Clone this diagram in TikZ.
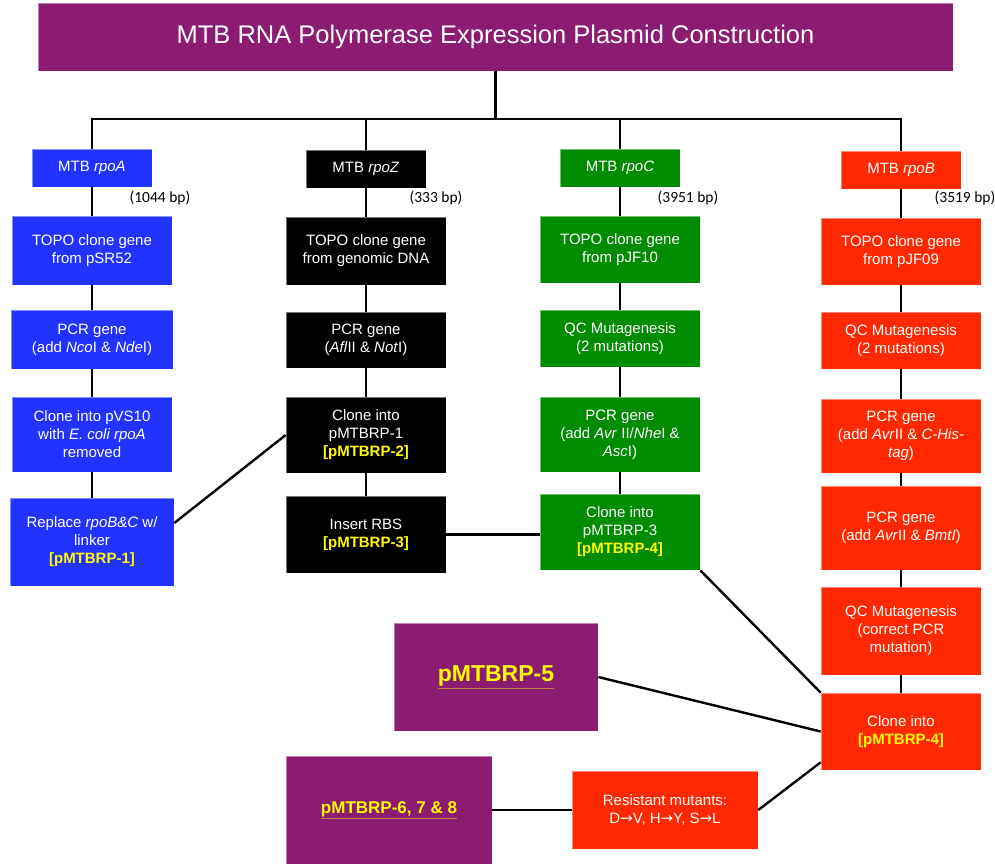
\documentclass[tikz,border=0pt]{standalone}
\usepackage{fontspec}
\setmainfont{Liberation Sans}
\newfontfamily\calfont{Carlito}
\newfontfamily\dvfont{DejaVu Sans}
\usetikzlibrary{calc}
\definecolor{mpurple}{RGB}{139,28,114}
\definecolor{mblue}{RGB}{34,51,255}
\definecolor{mgreen}{RGB}{0,140,0}
\definecolor{mred}{RGB}{255,40,0}
\definecolor{myellow}{RGB}{255,250,0}
\definecolor{mgold}{RGB}{225,185,20}
\newcommand\yl[1]{\textcolor{myellow}{\textbf{#1}}}
\newcommand\ul[1]{\tikz[baseline=(t.base)]\node[inner sep=0pt](t){#1};\tikz[overlay]\draw[mgold,line width=1.2pt]([yshift=-3pt]t.base west)--([yshift=-3pt]t.base east);}
\newcommand\arr{{\dvfont\char"2192}}
\tikzset{
  box/.style={draw=white, draw opacity=0.45, line width=0.6pt, text=white, align=center,
              inner sep=0pt, font=\fontsize{15}{18}\selectfont},
  bluebox/.style={box, fill=mblue},
  blackbox/.style={box, fill=black},
  greenbox/.style={box, fill=mgreen},
  redbox/.style={box, fill=mred},
  purplebox/.style={box, fill=mpurple},
  conn/.style={line width=2.4pt, black},
  bp/.style={font=\calfont\fontsize{15.5}{17}\selectfont, text=black, inner sep=0pt},
}
\begin{document}
\begin{tikzpicture}[x=1pt,y=-1pt]
\useasboundingbox (0,0) rectangle (995,864);

% title
\node[purplebox, minimum width=915, minimum height=68, font=\fontsize{25.5}{30}\selectfont] (title) at (495.5,37)
  {MTB RNA Polymerase Expression Plasmid Construction};

% column A (blue)
\node[bluebox, minimum width=120, minimum height=38] (a0) at (92,168) {MTB \textit{rpoA}};
\node[bluebox, minimum width=160, minimum height=69] (a1) at (92,250.5) {TOPO clone gene\\from pSR52};
\node[bluebox, minimum width=162, minimum height=59] (a2) at (92,339.5) {PCR gene\\(add \textit{Nco}I \& \textit{Nde}I)};
\node[bluebox, minimum width=160, minimum height=75] (a3) at (92,434.5) {Clone into pVS10\\with \textit{E. coli rpoA}\\removed};
\node[bluebox, minimum width=164, minimum height=88] (a4) at (92,542) {Replace \textit{rpoB\&C} w/\\linker\\\yl{[pMTBRP-1]}};

% column Z (black)
\node[blackbox, minimum width=120, minimum height=38] (z0) at (366,169) {MTB \textit{rpoZ}};
\node[blackbox, minimum width=160, minimum height=68] (z1) at (366,251) {TOPO clone gene\\from genomic DNA};
\node[blackbox, minimum width=160, minimum height=56] (z2) at (366,340) {PCR gene\\(\textit{Afl}II \& \textit{Not}I)};
\node[blackbox, minimum width=160, minimum height=76] (z3) at (366,435) {Clone into\\pMTBRP-1\\\yl{[pMTBRP-2]}};
\node[blackbox, minimum width=160, minimum height=77] (z4) at (366,534.5) {Insert RBS\\\yl{[pMTBRP-3]}};

% column C (green)
\node[greenbox, minimum width=120, minimum height=38] (c0) at (620,168) {MTB \textit{rpoC}};
\node[greenbox, minimum width=160, minimum height=67] (c1) at (620,249.5) {TOPO clone gene\\from pJF10};
\node[greenbox, minimum width=160, minimum height=57] (c2) at (620,338.5) {QC Mutagenesis\\(2 mutations)};
\node[greenbox, minimum width=160, minimum height=75] (c3) at (620,434.5) {PCR gene\\(add \textit{Avr} II/\textit{Nhe}I \&\\\textit{Asc}I)};
\node[greenbox, minimum width=160, minimum height=76] (c4) at (620,532) {Clone into\\pMTBRP-3\\\yl{[pMTBRP-4]}};

% column B (red)
\node[redbox, minimum width=120, minimum height=38] (b0) at (901,170) {MTB \textit{rpoB}};
\node[redbox, minimum width=160, minimum height=67] (b1) at (901,251.5) {TOPO clone gene\\from pJF09};
\node[redbox, minimum width=160, minimum height=57] (b2) at (901,340.5) {QC Mutagenesis\\(2 mutations)};
\node[redbox, minimum width=160, minimum height=74] (b3) at (901,436) {PCR gene\\(add \textit{Avr}II \& \textit{C-His-}\\\textit{tag})};
\node[redbox, minimum width=160, minimum height=84] (b4) at (901,528) {PCR gene\\(add \textit{Avr}II \& \textit{BmtI})};
\node[redbox, minimum width=160, minimum height=88] (b5) at (901,631) {QC Mutagenesis\\(correct PCR\\mutation)};
\node[redbox, minimum width=160, minimum height=77] (b6) at (901,731.5) {Clone into\\\yl{[pMTBRP-4]}};

% bottom
\node[purplebox, minimum width=204, minimum height=108, font=\fontsize{23}{26}\selectfont] (p5) at (496,677)
  {\yl{\underline{pMTBRP-5}}};
\node[purplebox, minimum width=206, minimum height=108, font=\fontsize{17}{20}\selectfont] (p6) at (389,810)
  {\yl{\underline{pMTBRP-6, 7 \& 8}}};
\node[redbox, minimum width=186, minimum height=78] (res) at (665,810)
  {Resistant mutants:\\D\arr V, H\arr Y, S\arr L};

% bp labels
\node[bp] (la) at (160,198) {(1044 bp)};
\node[bp] (lz) at (436,198) {(333 bp)};
\node[bp] (lc) at (688,198) {(3951 bp)};
\node[bp] (lb) at (965,198) {(3519 bp)};

% tree from title
\coordinate (bj) at (495.5,119);
\draw[conn] (title.south) -- (bj);
\draw[conn] (a0.north) |- (bj) -| (b0.north);
\draw[conn] (z0.north) -- (z0.north |- bj);
\draw[conn] (c0.north) -- (c0.north |- bj);

% column chains
\foreach \col/\n in {a/4, z/4, c/4, b/6}{
  \foreach \i [evaluate=\i as \j using int(\i+1)] in {0,...,5}{
    \ifnum\i<\n
      \draw[conn] (\col\i.south) -- (\col\j.north);
    \fi
  }
}

% cross connectors
\draw[conn] ([yshift=19pt]a4.east) -- (z3.west);
\draw[conn] (z4.east) -- (z4.east -| c4.west);
\draw[conn] (c4.south east) -- (b6.north west);
\draw[conn] (p5.east) -- (b6.west);
\draw[conn] (res.east) -- ([yshift=8pt]b6.south west);
\draw[conn] (p6.east) -- (res.west);
\end{tikzpicture}
\end{document}
